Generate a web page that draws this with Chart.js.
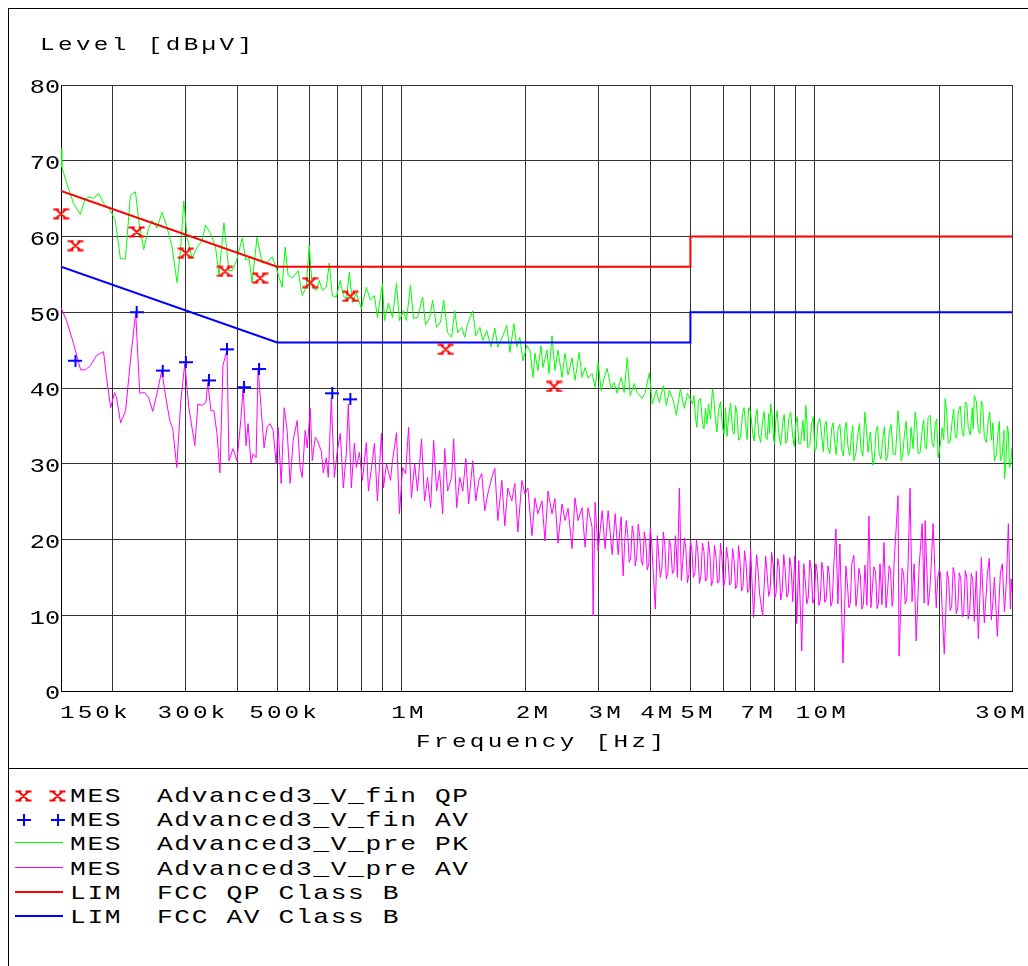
<!DOCTYPE html>
<html>
<head>
<meta charset="utf-8">
<script src="https://cdn.jsdelivr.net/npm/chart.js@4.4.1/dist/chart.umd.min.js"></script>
<style>
  body { margin: 0; background: #fff; width: 1028px; height: 966px; overflow: hidden; position: relative;
         font-family: 'Liberation Mono', 'DejaVu Sans Mono', monospace; }
  #wrap { position: absolute; left: 0; top: 0; width: 1028px; height: 768px; }
  .txt { position: absolute; white-space: pre; color: #000; font-size: 18px; line-height: 18px; letter-spacing: 2.5px;
         transform: scaleX(1.35); transform-origin: 0 0; }
  .rule { position: absolute; background: #000; }
  .leg { position: absolute; left: 69.5px; white-space: pre; color: #000; font-size: 21px; line-height: 21px; letter-spacing: 1.3px;
         transform: scaleX(1.25); transform-origin: 0 0; }
  .sym { position: absolute; left: 15px; width: 48px; }
</style>
</head>
<body>
<div id="wrap"><canvas id="chart" width="1028" height="768"></canvas></div>
<div class="rule" style="left:8px;top:8px;width:1020px;height:1px"></div>
<div class="rule" style="left:8px;top:8px;width:1px;height:958px"></div>
<div class="rule" style="left:8px;top:768px;width:1020px;height:1px"></div>
<div class="txt" style="left:39.5px;top:36px">Level [dBµV]</div>
<div class="txt" style="left:416px;top:733px">Frequency [Hz]</div>
<div id="legend"></div>
<script>
// frequencies in MHz, levels in dBµV

// axis grid and labels
const gridFreq = [0.15, 0.2, 0.3, 0.4, 0.5, 0.6, 0.7, 0.8, 0.9, 1, 2, 3, 4, 5, 6, 7, 8, 9, 10, 20, 30];
const tickLabelFreq = [0.15, 0.3, 0.5, 1, 2, 3, 4, 5, 7, 10, 30];
const tickLabelText = ['150k', '300k', '500k', '1M', '2M', '3M', '4M', '5M', '7M', '10M', '30M'];
const levelTicks = [0, 10, 20, 30, 40, 50, 60, 70, 80];

// limits (FCC class B)
const qpLimFreq = [0.15, 0.5, 5, 5, 30];
const qpLimLevel = [66, 56, 56, 60, 60];
const avLimFreq = [0.15, 0.5, 5, 5, 30];
const avLimLevel = [56, 46, 46, 50, 50];

// final measurement markers
const qpMarkFreq = [0.150, 0.1626, 0.2287, 0.3007, 0.3739, 0.4548, 0.6014, 0.752, 1.279, 2.339];
const qpMarkLevel = [63.0, 58.8, 60.6, 57.8, 55.4, 54.5, 53.9, 52.1, 45.1, 40.2];
const avMarkFreq = [0.1626, 0.2286, 0.2644, 0.3007, 0.342, 0.3782, 0.4159, 0.4522, 0.680, 0.752];
const avMarkLevel = [43.6, 50.0, 42.3, 43.4, 41.0, 45.1, 40.1, 42.5, 39.3, 38.5];

// prescan peak trace
const pkFreq = [
  0.150, 0.1507, 0.1549, 0.1608, 0.167, 0.1717, 0.1765, 0.1798, 0.1849, 0.1901, 0.1974, 0.203, 0.2088, 0.2147,
  0.2208, 0.2271, 0.2313, 0.2378, 0.2445, 0.2491, 0.2561, 0.2634, 0.2709, 0.2785, 0.2864, 0.2919, 0.2973, 0.3029,
  0.3114, 0.3203, 0.3293, 0.3357, 0.3452, 0.3548, 0.3617, 0.3718, 0.3824, 0.3895, 0.3992, 0.4119, 0.4199,
  0.4277, 0.4348, 0.4472, 0.4598, 0.4729, 0.4863, 0.4973, 0.5057, 0.5143, 0.5229, 0.5317, 0.5437, 0.5623, 0.575,
  0.588, 0.598, 0.6082, 0.6219, 0.6325, 0.6432, 0.6577, 0.6686, 0.68, 0.6953, 0.711, 0.7231, 0.7353, 0.7478,
  0.7605, 0.7776, 0.7996, 0.8222, 0.841, 0.86, 0.8744, 0.8993, 0.9093, 0.9299, 0.951, 0.9725, 0.9887,
  1.011, 1.028, 1.051, 1.069, 1.093, 1.125, 1.143, 1.17, 1.189, 1.216, 1.243, 1.265, 1.293, 1.322, 1.345, 1.367,
  1.398, 1.422, 1.446, 1.487, 1.513, 1.547, 1.573, 1.608, 1.645, 1.682, 1.71, 1.759, 1.798, 1.829, 1.87, 1.901,
  1.933, 1.967, 2.011,
  2.045, 2.08, 2.103, 2.138, 2.175, 2.199, 2.249, 2.274, 2.313, 2.351, 2.391, 2.445, 2.487, 2.529, 2.586, 2.629,
  2.69, 2.734, 2.781, 2.827, 2.892, 2.94, 2.99, 3.041, 3.092, 3.144, 3.216, 3.27, 3.325, 3.4, 3.458, 3.516, 3.576,
  3.657, 3.718, 3.824, 3.888, 3.977, 4.044, 4.136, 4.206, 4.301, 4.373, 4.447, 4.548, 4.624, 4.729, 4.835, 4.918,
  5.057, 5.143, 5.229, 5.347, 5.437, 5.529, 5.655, 5.75, 5.847, 5.98, 6.082, 6.184, 6.325, 6.432, 6.54, 6.686,
  6.8, 6.915, 7.071, 7.191, 7.312, 7.478, 7.605, 7.733,
  7.819, 7.952, 8.041, 8.177, 8.363, 8.503, 8.648, 8.843, 8.993, 9.145, 9.352, 9.51, 9.616, 9.833,
  10.0, 10.17, 10.4, 10.57, 10.76, 10.99, 11.18, 11.37, 11.63, 11.83, 12.02, 12.29, 12.43, 12.72, 12.93, 13.22,
  13.45, 13.82, 14.07, 14.31, 14.62, 14.87, 15.13, 15.47, 15.9, 16.17, 16.45, 16.82, 17.1, 17.49, 17.78, 18.19,
  18.49, 18.8, 19.23, 19.56, 19.88, 20.34, 20.68, 21.03, 21.5, 21.87, 22.24, 22.74, 23.13, 23.51, 24.05, 24.32,
  24.87, 25.29, 25.71, 26.29, 26.74, 27.2, 27.81, 28.12, 28.59, 28.76, 29.24, 29.57, 30.0
];
const pkLevel = [
  71.6, 69.2, 67.0, 64.4, 62.9, 65.0, 65.2, 65.0, 65.7, 64.4, 63.5, 62.1, 57.1, 57.0,
  65.4, 65.9, 62.1, 58.3, 61.1, 62.1, 61.1, 63.2, 61.2, 58.6, 53.9, 58.2, 64.7, 59.9,
  57.1, 58.6, 59.5, 61.5, 60.4, 58.6, 54.9, 61.8, 55.5, 55.5, 56.9, 59.8, 56.9,
  57.1, 53.9, 59.9, 56.5, 56.6, 57.3, 55.9, 54.6, 53.3, 58.6, 54.9, 54.5, 55.5, 52.2,
  53.3, 58.8, 53.3, 52.9, 54.2, 52.9, 53.3, 56.5, 52.2, 52.0, 54.2, 52.2, 51.6, 55.3,
  51.3, 52.5, 50.5, 53.3, 51.6, 52.2, 49.3, 53.8, 48.9, 51.2, 49.3, 53.8, 48.9,
  50.2, 48.9, 53.6, 49.2, 49.3, 52.0, 48.3, 49.3, 51.6, 48.0, 48.7, 51.6, 47.3, 46.7, 50.2, 47.3,
  48.0, 46.7, 48.5, 50.2, 46.9, 48.0, 46.3, 47.6, 45.4, 47.9, 45.4, 46.9, 48.3, 44.7, 48.5, 45.4,
  46.7, 43.6, 45.6,
  45.0, 41.4, 44.6, 42.3, 45.6, 42.7, 45.0, 41.9, 46.9, 42.3, 45.0, 41.4, 44.6, 41.7, 44.0, 41.0,
  44.7, 41.4, 42.7, 41.3, 41.9, 40.1, 43.4, 39.7, 41.3, 42.6, 39.9, 40.7, 39.3, 41.4, 39.4, 44.0, 39.0,
  40.6, 39.4, 38.6, 39.4, 42.0, 37.9, 39.7, 38.1, 40.3, 37.7, 39.7, 38.3, 36.4, 39.9, 37.3, 39.3,
  37.9, 36.1, 38.3, 35.4, 37.3, 37.9, 39.9, 35.7, 37.0, 34.8, 37.4, 36.1, 34.4, 37.7, 33.1, 36.6,
  35.3, 37.4, 34.1, 36.1, 34.0, 35.7, 33.5, 36.6,
  37.9, 33.1, 35.7, 34.1, 35.4, 32.7, 36.0, 33.5, 35.3, 32.7, 35.7, 37.7, 32.1, 35.4,
  31.7, 35.3, 33.5, 35.0, 32.1, 34.8, 32.7, 34.4, 31.7, 34.6, 32.4, 34.1, 30.4, 34.0, 32.0, 36.8,
  31.5, 29.8, 34.4, 31.3, 33.5, 30.4, 34.0, 31.3, 37.0, 30.4, 33.5, 31.1, 34.8, 36.8, 31.3, 34.4,
  32.1, 36.1, 32.7, 35.3, 30.8, 34.8, 38.6, 32.7, 35.7, 33.5, 37.0, 34.0, 38.1, 34.8, 37.4, 39.0,
  34.4, 38.3, 33.5, 35.7, 33.1, 30.4, 34.8, 30.4, 33.1, 28.0, 35.0, 29.5, 32.1
];
// further peak samples read inside the dense band above 5 MHz
const pkBandFreq = [
  5.10, 5.186, 5.288, 5.392, 5.483, 5.592, 5.702, 5.798, 5.913, 6.031, 6.133, 6.254, 6.378, 6.486, 6.613, 6.743,
  6.857, 6.993, 7.131, 7.251, 7.394, 7.541, 7.669, 7.776, 7.885, 7.996, 8.109, 8.27, 8.433, 8.575, 8.745, 8.918,
  9.069, 9.248, 9.431, 9.563, 9.724, 9.916, 10.08, 10.28, 10.48, 10.66, 10.87, 11.08, 11.27, 11.50, 11.73, 11.92,
  12.15, 12.36, 12.57, 12.82, 13.07, 13.33, 13.63, 13.94, 14.19, 14.46, 14.74, 15.0, 15.3, 15.68, 16.03, 16.31,
  16.63, 16.96, 17.29, 17.63, 17.98, 18.34, 18.64, 19.01, 19.39, 19.72, 20.11, 20.51, 20.85, 21.26, 21.68, 22.05,
  22.49, 22.93, 23.32, 23.78, 24.18, 24.59, 25.08, 25.5, 26.0, 26.51, 26.97, 27.5, 27.96, 28.35, 28.67, 29.0,
  29.4, 29.78
];
const pkBandLevel = [
  39.0, 34.8, 38.6, 34.6, 35.2, 35.9, 38.4, 34.2, 38.2, 34.0, 33.6, 38.0, 33.9, 36.6, 33.5, 37.4,
  33.2, 36.8, 33.0, 37.2, 32.8, 36.9, 33.2, 34.0, 36.4, 32.6, 37.0, 32.4, 36.5, 33.0, 36.8, 32.3,
  36.2, 32.6, 33.0, 35.8, 32.4, 36.2, 32.0, 36.0, 31.6, 35.6, 31.3, 35.4, 31.2, 35.2, 31.0, 35.5,
  31.1, 35.0, 31.4, 35.3, 31.0, 34.6, 34.2, 30.8, 35.0, 30.6, 34.9, 30.9, 35.2, 31.2, 34.6, 31.0,
  35.6, 31.6, 32.0, 35.4, 31.5, 35.8, 32.0, 36.4, 32.2, 35.9, 32.4, 33.2, 36.8, 33.0, 37.2, 33.4,
  37.6, 33.6, 38.0, 33.8, 34.6, 38.2, 34.0, 37.6, 32.8, 36.8, 35.4, 31.2, 35.6, 30.8, 34.4, 30.2,
  34.2, 30.0
];

// prescan average trace
const avFreq = [
  0.150, 0.1547, 0.1608, 0.1673, 0.1719, 0.1769, 0.1829, 0.1901, 0.1933, 0.1978, 0.2022, 0.2045, 0.2091, 0.215,
  0.2212, 0.2274, 0.2326, 0.2391, 0.2445, 0.2501, 0.2571, 0.2629, 0.2698, 0.275, 0.2796, 0.2859, 0.2924, 0.299,
  0.3058, 0.3162, 0.3216, 0.3288, 0.3362, 0.34, 0.3458, 0.3516, 0.3576, 0.3637, 0.3698, 0.3782, 0.3824, 0.391,
  0.3999, 0.409, 0.4136, 0.4206, 0.4253, 0.4324, 0.4373, 0.4447, 0.4497, 0.4573, 0.465, 0.4729, 0.4809, 0.489,
  0.4973, 0.5029, 0.5114, 0.5201, 0.5288, 0.5377, 0.5468, 0.5592, 0.5686, 0.575, 0.5847, 0.5913, 0.6014, 0.6082,
  0.6184, 0.6254, 0.6395, 0.6467, 0.6577, 0.665, 0.6763, 0.6877, 0.6993, 0.711, 0.7231, 0.7353, 0.7436, 0.7562,
  0.769, 0.7776, 0.7908, 0.8041, 0.8222, 0.8316, 0.8503, 0.86, 0.8744, 0.8943, 0.9043, 0.9196, 0.9404, 0.951,
  0.9725, 0.9887, 1.006, 1.023, 1.04, 1.057, 1.076, 1.093, 1.118, 1.137, 1.156, 1.176, 1.196, 1.216, 1.236, 1.258,
  1.272, 1.293, 1.322, 1.337, 1.36, 1.383, 1.407, 1.431, 1.454, 1.487, 1.513, 1.538, 1.564, 1.59, 1.617, 1.654,
  1.682, 1.71, 1.749, 1.778, 1.808, 1.849, 1.88, 1.912, 1.956, 1.988, 2.022, 2.068, 2.103, 2.138, 2.187, 2.224,
  2.262, 2.313, 2.351, 2.391, 2.445, 2.487, 2.529, 2.586, 2.629, 2.674, 2.734, 2.781, 2.827, 2.892, 2.908, 2.94,
  2.99, 3.058, 3.109, 3.162, 3.234, 3.288,
  3.344, 3.4, 3.438, 3.497, 3.556, 3.617, 3.678, 3.739, 3.803, 3.867, 3.932, 3.999, 4.067, 4.112, 4.159, 4.229,
  4.301, 4.373, 4.447, 4.522, 4.598, 4.65, 4.702, 4.755, 4.835, 4.918, 5.0, 5.085, 5.172, 5.259, 5.347, 5.437,
  5.529, 5.623, 5.718, 5.815, 5.913, 6.014, 6.115, 6.219, 6.325, 6.432, 6.54, 6.65, 6.763, 6.877, 6.993, 7.11,
  7.231, 7.353, 7.478, 7.605, 7.733, 7.864, 7.997, 8.132, 8.27, 8.41, 8.551, 8.696, 8.843, 8.943, 9.043, 9.145,
  9.299, 9.404, 9.563, 9.725, 9.887, 10.06, 10.23, 10.4, 10.57, 10.76, 10.93, 11.12, 11.25, 11.37, 11.5, 11.7,
  11.89, 12.09, 12.29, 12.43, 12.58, 12.79, 13.0, 13.22, 13.37, 13.52, 13.67, 13.9, 14.15, 14.38, 14.54, 14.7,
  14.87, 15.13, 15.38, 15.55, 15.73, 15.9, 15.99, 16.26, 16.54, 16.82, 17.0, 17.19, 17.39, 17.59, 17.88, 18.19,
  18.39, 18.49, 18.8, 19.12, 19.33, 19.67, 20.0, 20.34, 20.57, 20.91, 21.26, 21.62, 21.99, 22.37, 22.74, 23.13,
  23.51, 23.91, 24.32, 24.59, 24.87, 25.29, 25.71, 26.15, 26.44, 26.74, 27.2, 27.65, 28.12, 28.43, 28.76, 29.08,
  29.4, 29.73, 30.0
];
const avLevel = [
  50.6, 48.9, 45.9, 42.4, 42.4, 43.0, 44.3, 44.8, 41.4, 37.4, 39.4, 38.7, 35.4, 37.0,
  44.0, 50.0, 39.3, 39.4, 38.7, 36.9, 39.7, 42.3, 38.3, 35.7, 34.6, 29.5, 38.3, 43.2,
  37.4, 32.4, 37.9, 37.7, 38.1, 40.7, 37.0, 37.0, 34.0, 28.8, 43.0, 45.0, 30.4, 32.0,
  30.4, 36.1, 40.1, 32.4, 35.3, 30.1, 31.3, 30.8, 42.6, 37.4, 32.1, 34.8, 35.3, 34.4,
  30.0, 34.8, 27.4, 37.4, 34.4, 27.4, 33.1, 35.7, 29.5, 28.2, 34.4, 32.1, 37.3, 30.4,
  33.5, 33.1, 31.7, 28.8, 30.8, 28.2, 38.7, 28.2, 31.7, 34.0, 26.8, 31.3, 37.9, 26.8,
  32.7, 29.5, 31.5, 27.8, 32.8, 26.4, 30.4, 32.7, 25.1, 34.0, 26.8, 30.0, 27.8, 30.4,
  34.1, 23.4, 29.5, 28.7, 34.8, 25.5, 30.0, 26.4, 33.3, 25.1, 28.2, 24.2, 33.1, 26.4, 29.1, 23.4,
  32.0, 26.4, 28.2, 33.3, 24.2, 28.2, 26.4, 30.7, 24.7, 30.4, 25.1, 27.8, 28.7, 23.8, 26.0, 28.2,
  29.4, 22.5, 27.8, 21.8, 26.8, 25.1, 27.4, 21.0, 27.8, 26.0, 26.8, 20.5, 25.5, 23.4, 25.1, 19.8,
  26.4, 23.4, 25.4, 19.5, 24.7, 22.5, 24.1, 18.8, 25.5, 22.5, 24.2, 19.0, 24.2, 21.6, 9.9, 24.9,
  18.5, 23.8, 18.8, 23.8, 18.0, 23.4,
  18.0, 23.0, 15.2, 22.5, 17.0, 21.8, 16.5, 22.0, 17.2, 21.0, 16.0, 21.5, 15.5, 10.8, 20.5, 15.0,
  21.0, 14.8, 20.0, 15.5, 20.5, 15.0, 26.8, 14.6, 20.2, 14.3, 19.8, 15.0, 20.0, 14.2, 19.5, 14.5,
  19.8, 13.9, 19.2, 14.3, 19.5, 13.6, 19.0, 14.0, 18.8, 13.5, 19.2, 13.2, 18.5, 13.0, 18.8, 9.7,
  18.0, 12.8, 9.9, 17.8, 12.5, 18.3, 12.2, 17.5, 12.0, 18.0, 12.4, 17.6, 11.8, 17.8, 8.9, 17.2,
  5.3, 16.8, 11.5, 17.3, 11.6, 16.8, 11.3, 17.0, 11.7, 16.5, 11.2, 16.8, 21.4, 11.5, 19.4, 3.7,
  16.5, 11.0, 16.8, 17.9, 11.2, 16.2, 10.8, 16.6, 11.3, 23.1, 11.0, 16.4, 10.9, 16.8, 11.4, 19.6,
  11.0, 16.5, 11.2, 17.0, 21.4, 25.8, 4.6, 16.2, 11.5, 17.0, 26.8, 11.8, 16.8, 6.6, 16.4, 22.1,
  11.6, 22.5, 11.3, 16.5, 22.1, 11.0, 16.0, 10.5, 4.9, 15.8, 10.6, 16.3, 10.2, 15.6, 9.8, 15.9,
  9.5, 15.5, 9.2, 15.8, 6.9, 17.6, 9.0, 15.4, 17.5, 9.4, 15.0, 7.2, 15.6, 16.8, 10.5, 14.5,
  22.1, 10.8, 13.0
];
// further average samples read inside the dense band above 3.3 MHz
const avBandFreq = [
  3.372, 3.419, 3.467, 3.526, 3.586, 3.647, 3.708, 3.771, 3.835, 3.899, 3.965, 4.033, 4.194, 4.265, 4.337, 4.41,
  4.484, 4.56, 4.624, 4.795, 4.876, 4.959, 5.042, 5.128, 5.215, 5.303, 5.392, 5.483, 5.576, 5.67, 5.766, 5.864,
  5.963, 6.064, 6.167, 6.272, 6.378, 6.486, 6.595, 6.706, 6.82, 6.935, 7.292, 7.669, 7.798, 7.93, 8.064, 8.2,
  8.34, 8.48, 8.623, 8.769, 9.483, 9.644, 9.806, 9.973, 10.14, 10.31, 10.48, 10.66, 10.84, 11.02, 11.99, 12.19,
  12.68, 12.89, 13.11, 13.78, 14.02, 14.26, 15.0, 15.25, 15.46, 16.4, 16.68, 18.96, 19.83, 20.17, 21.08, 21.44,
  21.8, 22.18, 22.55, 22.93, 23.32, 23.71, 24.11, 25.93, 26.97, 28.92, 29.86
];
const avBandLevel = [
  21.0, 18.2, 19.6, 20.8, 17.6, 20.6, 17.8, 20.4, 16.6, 19.8, 16.8, 19.4, 17.6, 16.2, 19.2, 15.6,
  19.0, 15.9, 18.6, 17.2, 18.8, 15.4, 18.6, 15.6, 18.2, 15.2, 18.4, 14.8, 18.0, 14.6, 17.8, 14.4,
  17.6, 14.8, 17.4, 14.2, 17.2, 14.0, 17.0, 13.8, 16.8, 13.4, 15.8, 15.4, 13.4, 16.6, 13.0, 16.4,
  13.2, 16.0, 12.8, 16.2, 14.6, 12.4, 16.0, 12.2, 15.6, 12.0, 15.8, 12.2, 15.4, 11.8, 14.2, 11.6,
  13.0, 15.2, 11.4, 13.6, 15.8, 11.6, 13.2, 16.0, 11.8, 15.6, 12.0, 13.0, 14.8, 15.4, 14.6, 11.2,
  15.2, 11.0, 14.8, 10.4, 15.0, 10.6, 14.6, 12.0, 11.8, 12.4, 14.8
];

// legend rows
const legendText = [
  'MES  Advanced3_V_fin QP', 'MES  Advanced3_V_fin AV', 'MES  Advanced3_V_pre PK',
  'MES  Advanced3_V_pre AV', 'LIM  FCC QP Class B', 'LIM  FCC AV Class B'
];
const legendKind = ['x', '+', 'line', 'line', 'line', 'line'];
const legendColor = ['#ff0000', '#0000ff', '#00ff00', '#ff00ff', '#ff0000', '#0000ff'];
const legendWidth = [0, 0, 1, 1, 2, 2];

function xMark(color) {
  const c = document.createElement('canvas');
  c.width = 17; c.height = 12;
  const g = c.getContext('2d');
  g.strokeStyle = color;
  g.lineWidth = 1.8;
  g.beginPath();
  g.moveTo(3.5, 1.5); g.lineTo(13.5, 10.5);
  g.moveTo(3.5, 10.5); g.lineTo(13.5, 1.5);
  g.moveTo(0.5, 1.5); g.lineTo(6.5, 1.5);
  g.moveTo(10.5, 1.5); g.lineTo(16.5, 1.5);
  g.moveTo(0.5, 10.5); g.lineTo(6.5, 10.5);
  g.moveTo(10.5, 10.5); g.lineTo(16.5, 10.5);
  g.stroke();
  return c;
}

function plusMark(color) {
  const c = document.createElement('canvas');
  c.width = 14; c.height = 12;
  const g = c.getContext('2d');
  g.strokeStyle = color;
  g.lineWidth = 2;
  g.beginPath();
  g.moveTo(0, 6); g.lineTo(14, 6);
  g.moveTo(7, 0); g.lineTo(7, 12);
  g.stroke();
  return c;
}

const toPts = (fs, ls) => fs.map((f, i) => ({ x: f, y: ls[i] }));
// join two sample lists of one trace in frequency order
const joinPts = (fa, la, fb, lb) => toPts(fa, la).concat(toPts(fb, lb)).sort((a, b) => a.x - b.x);

// stretched mono text, like the plotter font
function wideText(ctx, text, x, y, align, k) {
  ctx.save();
  ctx.translate(x, y);
  ctx.scale(k, 1);
  ctx.textAlign = align;
  ctx.fillText(text, 0, 0);
  ctx.restore();
}

// tick labels for both axes, placed from the chart scales
const axisText = {
  id: 'axisText',
  afterDraw(chart) {
    const ctx = chart.ctx;
    const sx = chart.scales.x;
    const sy = chart.scales.y;
    ctx.save();
    ctx.fillStyle = '#000';
    ctx.textBaseline = 'alphabetic';

    ctx.font = "18px 'Liberation Mono'";
    ctx.letterSpacing = '2.3px';
    const y = sx.top + 26.5;
    tickLabelFreq.forEach((f, i) => {
      const px = sx.getPixelForValue(f);
      if (i === 0) wideText(ctx, tickLabelText[i], px - 1, y, 'left', 1.35);
      else if (i === tickLabelFreq.length - 1) wideText(ctx, tickLabelText[i], px + 16, y, 'right', 1.35);
      else wideText(ctx, tickLabelText[i], px + 7.5, y, 'center', 1.35);
    });

    ctx.font = "21px 'Liberation Mono'";
    ctx.letterSpacing = '0px';
    levelTicks.forEach(v => {
      wideText(ctx, String(v), sy.right - 1, sy.getPixelForValue(v) + 8.3, 'right', 1.2);
    });
    ctx.restore();
  }
};

const line = (label, pts, color, width) => ({
  label: label, data: pts, showLine: true, borderColor: color, borderWidth: width,
  pointRadius: 0, tension: 0, fill: false
});

new Chart(document.getElementById('chart'), {
  type: 'scatter',
  data: {
    datasets: [
      { label: 'QP', data: toPts(qpMarkFreq, qpMarkLevel), pointStyle: xMark('#ff0000'), pointRadius: 6, clip: false },
      { label: 'AV', data: toPts(avMarkFreq, avMarkLevel), pointStyle: plusMark('#0000ff'), pointRadius: 6, clip: false },
      line('FCC QP Class B', toPts(qpLimFreq, qpLimLevel), '#ff0000', 2),
      line('FCC AV Class B', toPts(avLimFreq, avLimLevel), '#0000ff', 2),
      line('pre PK', joinPts(pkFreq, pkLevel, pkBandFreq, pkBandLevel), '#00ff00', 1),
      line('pre AV', joinPts(avFreq, avLevel, avBandFreq, avBandLevel), '#ff00ff', 1)
    ]
  },
  options: {
    responsive: false,
    animation: false,
    events: [],
    layout: { padding: { top: 85, right: 16, left: 0, bottom: 0 } },
    plugins: { legend: { display: false }, tooltip: { enabled: false } },
    scales: {
      x: {
        type: 'logarithmic',
        min: 0.15,
        max: 30,
        afterBuildTicks: (s) => { s.ticks = gridFreq.map(v => ({ value: v })); },
        afterFit: (s) => { s.height = 77; },
        ticks: { display: false, autoSkip: false },
        grid: { color: '#333', lineWidth: 1, drawTicks: false },
        border: { color: '#000', width: 1 }
      },
      y: {
        min: 0,
        max: 80,
        afterBuildTicks: (s) => { s.ticks = levelTicks.map(v => ({ value: v })); },
        afterFit: (s) => { s.width = 61; },
        ticks: { display: false },
        grid: { color: '#333', lineWidth: 1, drawTicks: false },
        border: { color: '#000', width: 1 }
      }
    }
  },
  plugins: [axisText]
});

// legend below the plot
const legend = document.getElementById('legend');
legendText.forEach((t, i) => {
  const top = 785.6 + i * 24.3;
  const row = document.createElement('div');
  row.className = 'leg';
  row.style.top = top + 'px';
  row.textContent = t;
  legend.appendChild(row);
  if (legendKind[i] === 'line') {
    const ln = document.createElement('div');
    ln.className = 'sym';
    ln.style.top = (top + 8) + 'px';
    ln.style.height = legendWidth[i] + 'px';
    ln.style.background = legendColor[i];
    legend.appendChild(ln);
  } else {
    const mk = legendKind[i] === 'x' ? xMark(legendColor[i]) : plusMark(legendColor[i]);
    [23.5, 57.5].forEach(cx => {
      const c = document.createElement('canvas');
      c.width = mk.width; c.height = mk.height;
      c.getContext('2d').drawImage(mk, 0, 0);
      c.style.position = 'absolute';
      c.style.left = (cx - mk.width / 2) + 'px';
      c.style.top = (top + 10.5 - mk.height / 2) + 'px';
      legend.appendChild(c);
    });
  }
});
</script>
</body>
</html>
